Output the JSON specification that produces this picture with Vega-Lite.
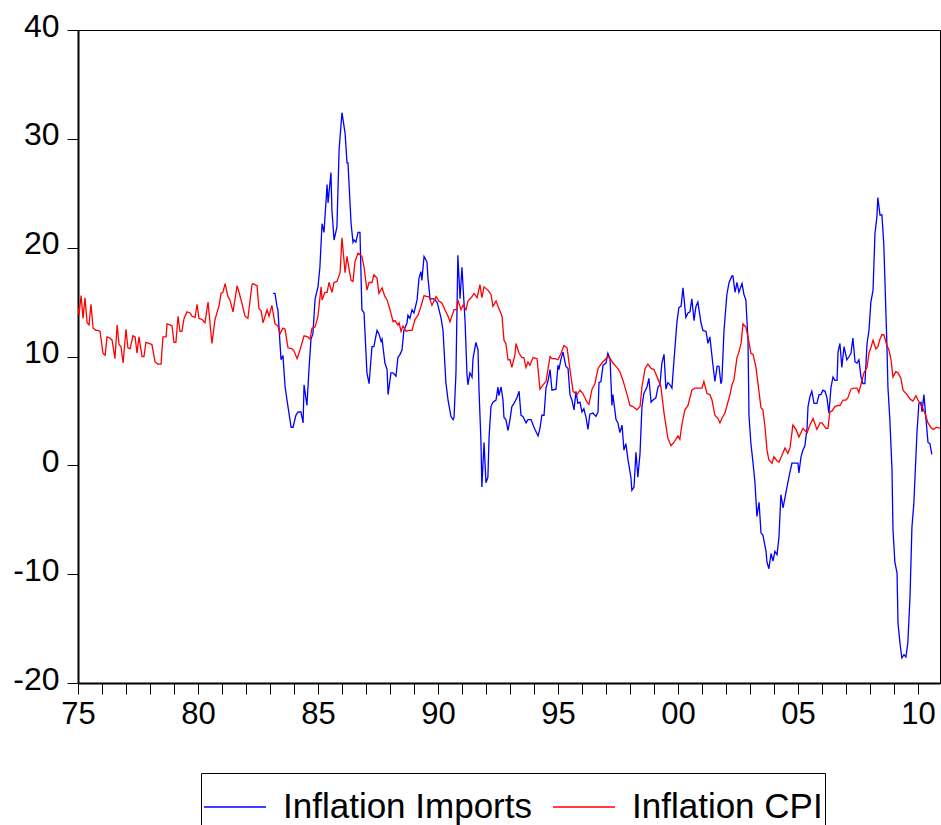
{
  "$schema": "https://vega.github.io/schema/vega-lite/v6.json",
  "autosize": {"type": "none"},
  "width": 862,
  "height": 653,
  "padding": {"left": 78, "top": 30, "right": 1, "bottom": 142},
  "background": "white",
  "config": {
    "view": {"stroke": "black", "strokeWidth": 1},
    "font": "Liberation Sans"
  },
  "datasets": {
    "imp": [
      {"t":1983.13,"v":15.8},{"t":1983.21,"v":15.8},{"t":1983.29,"v":14.6},{"t":1983.33,"v":14.3},{"t":1983.46,"v":9.7},{"t":1983.54,"v":10.1},{"t":1983.63,"v":7.2},{"t":1983.75,"v":5.4},{"t":1983.88,"v":3.5},{"t":1983.96,"v":3.5},
      {"t":1984.08,"v":4.6},{"t":1984.17,"v":4.9},{"t":1984.29,"v":4.9},{"t":1984.38,"v":3.9},{"t":1984.42,"v":7.4},{"t":1984.54,"v":5.5},{"t":1984.63,"v":9.0},{"t":1984.71,"v":11.6},{"t":1984.79,"v":12.1},{"t":1984.88,"v":15.3},
      {"t":1985.0,"v":16.4},{"t":1985.08,"v":18.2},{"t":1985.17,"v":22.2},{"t":1985.25,"v":21.4},{"t":1985.38,"v":25.8},{"t":1985.42,"v":24.1},{"t":1985.54,"v":26.9},{"t":1985.58,"v":23.5},{"t":1985.67,"v":20.7},{"t":1985.79,"v":21.9},{"t":1985.88,"v":29.0},
      {"t":1986.0,"v":32.4},{"t":1986.13,"v":30.5},{"t":1986.21,"v":27.8},{"t":1986.25,"v":27.8},{"t":1986.38,"v":22.2},{"t":1986.46,"v":20.5},{"t":1986.5,"v":20.7},{"t":1986.58,"v":20.5},{"t":1986.67,"v":21.4},{"t":1986.75,"v":21.4},{"t":1986.83,"v":14.3},{"t":1986.92,"v":14.0},
      {"t":1987.04,"v":8.5},{"t":1987.13,"v":7.5},{"t":1987.25,"v":10.9},{"t":1987.33,"v":10.9},{"t":1987.46,"v":12.4},{"t":1987.54,"v":12.1},{"t":1987.63,"v":11.4},{"t":1987.67,"v":11.6},{"t":1987.79,"v":9.4},{"t":1987.88,"v":8.8},{"t":1987.92,"v":6.5},
      {"t":1988.04,"v":8.5},{"t":1988.13,"v":8.5},{"t":1988.25,"v":8.2},{"t":1988.33,"v":9.9},{"t":1988.42,"v":10.2},{"t":1988.5,"v":10.6},{"t":1988.58,"v":12.4},{"t":1988.71,"v":13.1},{"t":1988.75,"v":13.8},{"t":1988.83,"v":13.5},{"t":1988.92,"v":14.3},
      {"t":1989.0,"v":14.0},{"t":1989.13,"v":15.2},{"t":1989.21,"v":17.2},{"t":1989.29,"v":17.8},{"t":1989.33,"v":17.0},{"t":1989.42,"v":19.2},{"t":1989.54,"v":18.7},{"t":1989.58,"v":17.3},{"t":1989.67,"v":15.3},{"t":1989.75,"v":15.3},{"t":1989.83,"v":15.3},{"t":1989.96,"v":15.0},
      {"t":1990.0,"v":14.7},{"t":1990.13,"v":13.5},{"t":1990.21,"v":12.4},{"t":1990.33,"v":7.6},{"t":1990.42,"v":6.0},{"t":1990.54,"v":4.5},{"t":1990.63,"v":4.2},{"t":1990.67,"v":4.4},{"t":1990.75,"v":8.5},{"t":1990.83,"v":19.3},{"t":1990.92,"v":15.3},
      {"t":1991.0,"v":18.2},{"t":1991.13,"v":13.2},{"t":1991.21,"v":8.3},{"t":1991.25,"v":7.4},{"t":1991.33,"v":8.5},{"t":1991.42,"v":8.1},{"t":1991.46,"v":9.8},{"t":1991.58,"v":11.3},{"t":1991.67,"v":10.6},{"t":1991.71,"v":6.9},{"t":1991.79,"v":2.3},{"t":1991.83,"v":-2.0},{"t":1991.92,"v":2.1},
      {"t":1992.0,"v":-1.6},{"t":1992.08,"v":-1.1},{"t":1992.13,"v":2.6},{"t":1992.21,"v":5.4},{"t":1992.29,"v":5.8},{"t":1992.42,"v":6.0},{"t":1992.5,"v":7.2},{"t":1992.54,"v":6.4},{"t":1992.63,"v":7.2},{"t":1992.71,"v":6.0},{"t":1992.75,"v":4.4},{"t":1992.83,"v":4.2},{"t":1992.92,"v":3.2},
      {"t":1993.0,"v":4.2},{"t":1993.08,"v":5.4},{"t":1993.17,"v":5.7},{"t":1993.29,"v":6.2},{"t":1993.38,"v":6.8},{"t":1993.46,"v":4.6},{"t":1993.54,"v":4.5},{"t":1993.67,"v":3.9},{"t":1993.75,"v":4.2},{"t":1993.88,"v":4.2},
      {"t":1994.0,"v":3.5},{"t":1994.17,"v":2.7},{"t":1994.25,"v":3.4},{"t":1994.33,"v":4.6},{"t":1994.42,"v":4.6},{"t":1994.5,"v":7.1},{"t":1994.58,"v":7.7},{"t":1994.67,"v":8.8},{"t":1994.75,"v":6.9},{"t":1994.92,"v":7.0},
      {"t":1995.0,"v":9.2},{"t":1995.04,"v":8.8},{"t":1995.13,"v":9.8},{"t":1995.21,"v":10.4},{"t":1995.33,"v":9.1},{"t":1995.42,"v":8.9},{"t":1995.5,"v":6.5},{"t":1995.58,"v":6.0},{"t":1995.67,"v":5.1},{"t":1995.75,"v":6.8},{"t":1995.83,"v":5.7},{"t":1995.92,"v":5.8},
      {"t":1996.0,"v":4.9},{"t":1996.08,"v":5.2},{"t":1996.17,"v":4.4},{"t":1996.25,"v":3.3},{"t":1996.33,"v":4.7},{"t":1996.46,"v":4.8},{"t":1996.58,"v":4.5},{"t":1996.67,"v":4.9},{"t":1996.71,"v":7.6},{"t":1996.79,"v":7.7},{"t":1996.88,"v":9.2},
      {"t":1997.0,"v":9.4},{"t":1997.08,"v":10.3},{"t":1997.17,"v":9.8},{"t":1997.25,"v":5.5},{"t":1997.29,"v":6.5},{"t":1997.42,"v":4.2},{"t":1997.5,"v":3.9},{"t":1997.58,"v":3.0},{"t":1997.67,"v":3.7},{"t":1997.75,"v":1.4},{"t":1997.83,"v":2.0},{"t":1997.92,"v":0.5},
      {"t":1998.04,"v":-1.1},{"t":1998.08,"v":-2.3},{"t":1998.17,"v":-2.0},{"t":1998.25,"v":1.2},{"t":1998.33,"v":-1.1},{"t":1998.42,"v":1.1},{"t":1998.5,"v":5.4},{"t":1998.58,"v":6.6},{"t":1998.71,"v":7.2},{"t":1998.79,"v":8.0},{"t":1998.88,"v":5.8},{"t":1998.96,"v":6.0},
      {"t":1999.08,"v":6.2},{"t":1999.17,"v":7.2},{"t":1999.25,"v":7.4},{"t":1999.33,"v":9.4},{"t":1999.42,"v":10.2},{"t":1999.5,"v":7.0},{"t":1999.58,"v":7.6},{"t":1999.67,"v":7.4},{"t":1999.75,"v":7.1},{"t":1999.83,"v":9.5},{"t":1999.96,"v":13.2},
      {"t":2000.04,"v":14.5},{"t":2000.13,"v":14.6},{"t":2000.21,"v":16.3},{"t":2000.33,"v":13.6},{"t":2000.42,"v":14.0},{"t":2000.5,"v":14.1},{"t":2000.58,"v":15.3},{"t":2000.67,"v":13.3},{"t":2000.75,"v":14.6},{"t":2000.83,"v":15.0},{"t":2000.96,"v":13.1},
      {"t":2001.04,"v":12.4},{"t":2001.17,"v":12.3},{"t":2001.25,"v":11.2},{"t":2001.33,"v":11.8},{"t":2001.42,"v":10.0},{"t":2001.46,"v":9.2},{"t":2001.54,"v":7.7},{"t":2001.63,"v":9.1},{"t":2001.71,"v":9.1},{"t":2001.79,"v":7.5},{"t":2001.83,"v":7.8},{"t":2001.92,"v":12.4},
      {"t":2002.04,"v":15.7},{"t":2002.13,"v":16.8},{"t":2002.25,"v":17.4},{"t":2002.29,"v":17.4},{"t":2002.38,"v":15.9},{"t":2002.46,"v":16.8},{"t":2002.54,"v":15.9},{"t":2002.67,"v":16.7},{"t":2002.75,"v":15.7},{"t":2002.83,"v":15.2},{"t":2002.92,"v":11.5},{"t":2002.96,"v":4.6},
      {"t":2003.04,"v":2.0},{"t":2003.13,"v":0.2},{"t":2003.21,"v":-1.6},{"t":2003.29,"v":-4.7},{"t":2003.38,"v":-3.4},{"t":2003.46,"v":-6.2},{"t":2003.54,"v":-6.4},{"t":2003.67,"v":-7.9},{"t":2003.71,"v":-8.9},{"t":2003.79,"v":-9.5},{"t":2003.88,"v":-8.1},{"t":2003.96,"v":-8.8},
      {"t":2004.04,"v":-7.9},{"t":2004.13,"v":-8.2},{"t":2004.21,"v":-6.6},{"t":2004.29,"v":-2.7},{"t":2004.38,"v":-3.9},{"t":2004.5,"v":-2.5},{"t":2004.58,"v":-1.6},{"t":2004.67,"v":-0.6},{"t":2004.75,"v":0.2},{"t":2004.83,"v":0.2},{"t":2004.92,"v":0.2},
      {"t":2005.0,"v":0.2},{"t":2005.04,"v":-0.7},{"t":2005.13,"v":0.8},{"t":2005.21,"v":1.4},{"t":2005.29,"v":1.8},{"t":2005.38,"v":3.4},{"t":2005.42,"v":5.4},{"t":2005.5,"v":6.3},{"t":2005.58,"v":6.8},{"t":2005.67,"v":5.7},{"t":2005.79,"v":5.7},{"t":2005.88,"v":6.5},{"t":2005.96,"v":6.5},
      {"t":2006.04,"v":6.9},{"t":2006.13,"v":6.8},{"t":2006.21,"v":6.2},{"t":2006.29,"v":4.8},{"t":2006.38,"v":7.2},{"t":2006.46,"v":8.1},{"t":2006.54,"v":7.8},{"t":2006.63,"v":7.8},{"t":2006.67,"v":10.4},{"t":2006.75,"v":11.2},{"t":2006.83,"v":9.0},{"t":2006.92,"v":10.9},
      {"t":2007.04,"v":9.7},{"t":2007.13,"v":10.0},{"t":2007.21,"v":10.3},{"t":2007.29,"v":11.7},{"t":2007.38,"v":9.5},{"t":2007.46,"v":9.4},{"t":2007.54,"v":9.7},{"t":2007.63,"v":8.1},{"t":2007.71,"v":7.5},{"t":2007.79,"v":7.5},{"t":2007.88,"v":11.2},{"t":2007.96,"v":12.4},
      {"t":2008.04,"v":15.0},{"t":2008.13,"v":16.1},{"t":2008.21,"v":21.3},{"t":2008.29,"v":22.8},{"t":2008.33,"v":24.6},{"t":2008.42,"v":23.0},{"t":2008.5,"v":23.0},{"t":2008.58,"v":20.2},{"t":2008.71,"v":10.9},{"t":2008.75,"v":7.2},{"t":2008.83,"v":4.2},{"t":2008.92,"v":-0.4},{"t":2008.96,"v":-5.9},
      {"t":2009.04,"v":-8.9},{"t":2009.13,"v":-9.9},{"t":2009.17,"v":-14.5},{"t":2009.25,"v":-16.3},{"t":2009.33,"v":-17.7},{"t":2009.42,"v":-17.4},{"t":2009.5,"v":-17.6},{"t":2009.58,"v":-16.3},{"t":2009.67,"v":-12.1},{"t":2009.75,"v":-5.7},{"t":2009.83,"v":-3.5},{"t":2009.96,"v":3.0},
      {"t":2010.04,"v":5.7},{"t":2010.13,"v":5.8},{"t":2010.17,"v":4.9},{"t":2010.25,"v":6.5},{"t":2010.33,"v":4.4},{"t":2010.42,"v":2.1},{"t":2010.5,"v":2.0},{"t":2010.58,"v":1.0}
    ],
    "cpi": [
      {"t":1975.0,"v":14.5},{"t":1975.04,"v":13.8},{"t":1975.13,"v":15.6},{"t":1975.21,"v":13.5},{"t":1975.29,"v":15.4},{"t":1975.38,"v":13.1},{"t":1975.46,"v":12.9},{"t":1975.54,"v":14.8},{"t":1975.63,"v":12.6},{"t":1975.75,"v":12.4},{"t":1975.83,"v":12.4},{"t":1975.92,"v":12.3},
      {"t":1976.04,"v":10.3},{"t":1976.13,"v":10.1},{"t":1976.21,"v":11.8},{"t":1976.33,"v":11.7},{"t":1976.42,"v":11.5},{"t":1976.54,"v":9.8},{"t":1976.63,"v":12.9},{"t":1976.71,"v":11.1},{"t":1976.79,"v":10.9},{"t":1976.88,"v":9.4},
      {"t":1977.0,"v":12.5},{"t":1977.08,"v":10.8},{"t":1977.17,"v":10.7},{"t":1977.29,"v":11.9},{"t":1977.38,"v":11.8},{"t":1977.46,"v":10.3},{"t":1977.54,"v":11.8},{"t":1977.67,"v":10.0},{"t":1977.75,"v":10.0},{"t":1977.83,"v":11.3},{"t":1977.96,"v":11.2},
      {"t":1978.08,"v":11.1},{"t":1978.21,"v":9.5},{"t":1978.33,"v":9.3},{"t":1978.46,"v":9.3},{"t":1978.54,"v":11.8},{"t":1978.67,"v":11.8},{"t":1978.71,"v":13.0},{"t":1978.83,"v":12.9},{"t":1978.92,"v":12.8},
      {"t":1979.0,"v":11.3},{"t":1979.08,"v":11.3},{"t":1979.17,"v":13.7},{"t":1979.25,"v":12.3},{"t":1979.33,"v":12.3},{"t":1979.42,"v":13.5},{"t":1979.54,"v":14.1},{"t":1979.67,"v":14.0},{"t":1979.75,"v":13.7},{"t":1979.88,"v":13.6},{"t":1979.96,"v":14.8},
      {"t":1980.04,"v":13.5},{"t":1980.17,"v":13.4},{"t":1980.29,"v":13.1},{"t":1980.42,"v":15.0},{"t":1980.58,"v":11.2},{"t":1980.71,"v":13.4},{"t":1980.88,"v":14.7},{"t":1980.96,"v":15.8},
      {"t":1981.04,"v":15.9},{"t":1981.13,"v":16.7},{"t":1981.25,"v":15.5},{"t":1981.33,"v":15.2},{"t":1981.46,"v":14.1},{"t":1981.63,"v":16.5},{"t":1981.71,"v":15.9},{"t":1981.83,"v":14.9},{"t":1981.96,"v":13.7},
      {"t":1982.08,"v":13.5},{"t":1982.25,"v":16.6},{"t":1982.29,"v":16.7},{"t":1982.46,"v":16.5},{"t":1982.54,"v":14.4},{"t":1982.63,"v":14.2},{"t":1982.71,"v":13.1},{"t":1982.88,"v":14.3},{"t":1982.96,"v":13.7},
      {"t":1983.08,"v":14.7},{"t":1983.21,"v":13.0},{"t":1983.33,"v":12.8},{"t":1983.42,"v":12.1},{"t":1983.54,"v":12.6},{"t":1983.63,"v":12.5},{"t":1983.75,"v":10.8},{"t":1983.92,"v":10.7},
      {"t":1984.0,"v":10.5},{"t":1984.13,"v":9.8},{"t":1984.25,"v":10.6},{"t":1984.42,"v":11.9},{"t":1984.58,"v":11.8},{"t":1984.67,"v":11.6},{"t":1984.75,"v":12.6},{"t":1984.88,"v":12.7},
      {"t":1985.0,"v":13.7},{"t":1985.13,"v":16.4},{"t":1985.17,"v":15.2},{"t":1985.29,"v":15.9},{"t":1985.38,"v":15.9},{"t":1985.46,"v":16.8},{"t":1985.58,"v":15.9},{"t":1985.67,"v":16.8},{"t":1985.79,"v":16.9},{"t":1985.92,"v":17.7},
      {"t":1986.0,"v":20.9},{"t":1986.13,"v":17.7},{"t":1986.21,"v":19.2},{"t":1986.29,"v":18.1},{"t":1986.38,"v":17.0},{"t":1986.46,"v":16.9},{"t":1986.54,"v":18.7},{"t":1986.67,"v":19.5},{"t":1986.83,"v":19.2},{"t":1986.92,"v":18.2},
      {"t":1987.04,"v":16.1},{"t":1987.13,"v":16.8},{"t":1987.25,"v":16.8},{"t":1987.33,"v":17.5},{"t":1987.46,"v":17.2},{"t":1987.54,"v":15.8},{"t":1987.67,"v":16.3},{"t":1987.79,"v":15.5},{"t":1987.88,"v":15.2},
      {"t":1988.0,"v":14.3},{"t":1988.13,"v":13.2},{"t":1988.21,"v":13.3},{"t":1988.33,"v":12.9},{"t":1988.38,"v":13.1},{"t":1988.46,"v":12.3},{"t":1988.54,"v":12.8},{"t":1988.67,"v":12.3},{"t":1988.75,"v":12.4},{"t":1988.92,"v":12.4},
      {"t":1989.04,"v":13.4},{"t":1989.17,"v":13.8},{"t":1989.29,"v":14.6},{"t":1989.42,"v":15.6},{"t":1989.54,"v":15.5},{"t":1989.63,"v":15.5},{"t":1989.75,"v":14.7},{"t":1989.92,"v":15.5},
      {"t":1990.04,"v":15.1},{"t":1990.17,"v":14.9},{"t":1990.29,"v":14.3},{"t":1990.42,"v":13.7},{"t":1990.5,"v":13.2},{"t":1990.58,"v":13.7},{"t":1990.67,"v":14.3},{"t":1990.79,"v":14.3},{"t":1990.83,"v":15.2},{"t":1990.96,"v":14.3},
      {"t":1991.04,"v":14.7},{"t":1991.17,"v":14.3},{"t":1991.25,"v":15.1},{"t":1991.42,"v":15.5},{"t":1991.5,"v":15.8},{"t":1991.63,"v":15.4},{"t":1991.75,"v":16.6},{"t":1991.83,"v":15.4},{"t":1991.92,"v":16.4},
      {"t":1992.08,"v":16.1},{"t":1992.21,"v":15.7},{"t":1992.29,"v":14.6},{"t":1992.42,"v":15.1},{"t":1992.54,"v":14.4},{"t":1992.67,"v":13.7},{"t":1992.75,"v":11.5},{"t":1992.83,"v":11.2},{"t":1992.92,"v":9.7},
      {"t":1993.0,"v":9.7},{"t":1993.08,"v":9.0},{"t":1993.21,"v":10.2},{"t":1993.25,"v":11.2},{"t":1993.38,"v":10.3},{"t":1993.5,"v":9.9},{"t":1993.58,"v":9.9},{"t":1993.67,"v":9.0},{"t":1993.75,"v":9.5},{"t":1993.83,"v":9.2},{"t":1993.96,"v":9.9},
      {"t":1994.13,"v":9.8},{"t":1994.25,"v":7.0},{"t":1994.38,"v":7.4},{"t":1994.5,"v":7.7},{"t":1994.67,"v":10.0},{"t":1994.75,"v":9.8},{"t":1994.88,"v":9.8},
      {"t":1995.0,"v":9.7},{"t":1995.13,"v":10.3},{"t":1995.25,"v":11.0},{"t":1995.38,"v":10.8},{"t":1995.5,"v":8.8},{"t":1995.63,"v":6.8},{"t":1995.79,"v":6.5},{"t":1995.92,"v":6.9},
      {"t":1996.04,"v":6.6},{"t":1996.21,"v":5.8},{"t":1996.29,"v":5.6},{"t":1996.42,"v":7.0},{"t":1996.54,"v":7.5},{"t":1996.67,"v":8.9},{"t":1996.83,"v":9.4},{"t":1996.96,"v":9.7},
      {"t":1997.08,"v":10.0},{"t":1997.21,"v":9.7},{"t":1997.29,"v":9.4},{"t":1997.46,"v":9.0},{"t":1997.58,"v":8.6},{"t":1997.71,"v":7.8},{"t":1997.88,"v":6.5},
      {"t":1998.0,"v":5.5},{"t":1998.13,"v":5.4},{"t":1998.29,"v":5.1},{"t":1998.42,"v":5.4},{"t":1998.5,"v":7.2},{"t":1998.63,"v":8.9},{"t":1998.75,"v":9.3},{"t":1998.88,"v":8.9},
      {"t":1999.0,"v":8.8},{"t":1999.17,"v":7.9},{"t":1999.29,"v":7.2},{"t":1999.42,"v":4.8},{"t":1999.58,"v":2.5},{"t":1999.71,"v":1.8},{"t":1999.83,"v":2.1},
      {"t":2000.0,"v":2.7},{"t":2000.08,"v":2.4},{"t":2000.17,"v":3.8},{"t":2000.29,"v":5.1},{"t":2000.42,"v":5.5},{"t":2000.58,"v":6.9},{"t":2000.71,"v":7.1},{"t":2000.88,"v":7.1},
      {"t":2001.0,"v":7.1},{"t":2001.08,"v":7.7},{"t":2001.21,"v":6.6},{"t":2001.33,"v":6.5},{"t":2001.42,"v":6.0},{"t":2001.54,"v":4.6},{"t":2001.67,"v":4.3},{"t":2001.75,"v":3.9},{"t":2001.83,"v":4.3},{"t":2001.96,"v":4.8},
      {"t":2002.08,"v":5.8},{"t":2002.17,"v":6.5},{"t":2002.25,"v":7.4},{"t":2002.33,"v":7.8},{"t":2002.46,"v":9.9},{"t":2002.54,"v":10.4},{"t":2002.63,"v":11.2},{"t":2002.71,"v":13.0},{"t":2002.83,"v":12.7},{"t":2002.92,"v":11.8},
      {"t":2003.04,"v":10.3},{"t":2003.13,"v":10.2},{"t":2003.25,"v":9.0},{"t":2003.33,"v":7.6},{"t":2003.46,"v":5.3},{"t":2003.54,"v":5.1},{"t":2003.63,"v":3.5},{"t":2003.71,"v":1.4},{"t":2003.79,"v":0.5},{"t":2003.92,"v":0.2},
      {"t":2004.0,"v":0.8},{"t":2004.13,"v":0.4},{"t":2004.21,"v":0.3},{"t":2004.33,"v":0.9},{"t":2004.46,"v":1.6},{"t":2004.58,"v":1.1},{"t":2004.67,"v":1.6},{"t":2004.79,"v":3.7},{"t":2004.92,"v":3.3},
      {"t":2005.04,"v":2.6},{"t":2005.21,"v":3.4},{"t":2005.38,"v":3.0},{"t":2005.5,"v":3.7},{"t":2005.63,"v":4.3},{"t":2005.79,"v":3.3},{"t":2005.92,"v":3.9},
      {"t":2006.0,"v":3.9},{"t":2006.17,"v":3.4},{"t":2006.25,"v":3.4},{"t":2006.33,"v":4.9},{"t":2006.42,"v":5.0},{"t":2006.54,"v":5.4},{"t":2006.67,"v":5.5},{"t":2006.75,"v":5.5},{"t":2006.88,"v":6.0},
      {"t":2007.0,"v":6.0},{"t":2007.08,"v":6.2},{"t":2007.21,"v":7.0},{"t":2007.33,"v":7.1},{"t":2007.46,"v":7.1},{"t":2007.54,"v":6.7},{"t":2007.67,"v":7.8},{"t":2007.75,"v":8.5},{"t":2007.88,"v":9.0},{"t":2007.96,"v":10.3},
      {"t":2008.04,"v":10.8},{"t":2008.13,"v":11.5},{"t":2008.25,"v":10.7},{"t":2008.33,"v":10.9},{"t":2008.42,"v":11.6},{"t":2008.5,"v":12.0},{"t":2008.58,"v":12.0},{"t":2008.71,"v":11.0},{"t":2008.79,"v":10.6},{"t":2008.88,"v":9.7},{"t":2008.96,"v":8.1},
      {"t":2009.08,"v":8.6},{"t":2009.17,"v":8.5},{"t":2009.29,"v":8.0},{"t":2009.38,"v":6.9},{"t":2009.54,"v":6.5},{"t":2009.67,"v":6.1},{"t":2009.79,"v":5.9},{"t":2009.92,"v":6.4},
      {"t":2010.0,"v":6.0},{"t":2010.17,"v":5.4},{"t":2010.29,"v":4.8},{"t":2010.42,"v":3.9},{"t":2010.54,"v":3.5},{"t":2010.63,"v":3.3},{"t":2010.79,"v":3.5},{"t":2010.92,"v":3.4}
    ]
  },
  "encoding": {
    "x": {
      "field": "t",
      "type": "quantitative",
      "scale": {"domain": [1975, 2010.92], "nice": false, "zero": false},
      "axis": {
        "title": null,
        "values": [1975,1976,1977,1978,1979,1980,1981,1982,1983,1984,1985,1986,1987,1988,1989,1990,1991,1992,1993,1994,1995,1996,1997,1998,1999,2000,2001,2002,2003,2004,2005,2006,2007,2008,2009,2010],
        "labelExpr": "datum.value % 5 === 0 ? substring(toString(datum.value), 2, 4) : ''",
        "labelOverlap": false,
        "labelFlush": false,
        "labelBound": false,
        "labelFont": "Liberation Sans",
        "labelFontSize": 31,
        "labelColor": "black",
        "labelPadding": 5,
        "tickColor": "black",
        "tickWidth": 1,
        "tickSize": 11,
        "domainColor": "black",
        "domainWidth": 2,
        "grid": false
      }
    },
    "y": {
      "field": "v",
      "type": "quantitative",
      "scale": {"domain": [-20, 40], "nice": false, "zero": false},
      "axis": {
        "title": null,
        "values": [-20, -10, 0, 10, 20, 30, 40],
        "labelExpr": "toString(datum.value)",
        "labelFont": "Liberation Sans",
        "labelFontSize": 32,
        "labelColor": "black",
        "labelPadding": 8,
        "labelOffset": -4,
        "labelBound": false,
        "labelFlush": false,
        "tickColor": "black",
        "tickWidth": 1,
        "tickSize": 11,
        "domainColor": "black",
        "domainWidth": 2,
        "grid": false
      }
    }
  },
  "layer": [
    {
      "data": {"name": "imp"},
      "mark": {"type": "line", "strokeWidth": 1.3, "clip": true},
      "encoding": {
        "color": {
          "datum": "Inflation Imports",
          "type": "nominal",
          "scale": {"domain": ["Inflation Imports", "Inflation CPI"], "range": ["#0000ff", "#ff0000"]},
          "legend": {
            "title": null,
            "orient": "none",
            "legendX": 123,
            "legendY": 743,
            "direction": "horizontal",
            "symbolType": "stroke",
            "symbolSize": 3844,
            "symbolStrokeWidth": 1.5,
            "labelFont": "Liberation Sans",
            "labelFontSize": 35,
            "labelColor": "black",
            "labelOffset": 16,
            "labelLimit": 0,
            "columnPadding": 18,
            "padding": 2,
            "strokeColor": "black"
          }
        }
      }
    },
    {
      "data": {"name": "cpi"},
      "mark": {"type": "line", "strokeWidth": 1.3, "clip": true},
      "encoding": {
        "color": {"datum": "Inflation CPI", "type": "nominal"}
      }
    }
  ]
}
